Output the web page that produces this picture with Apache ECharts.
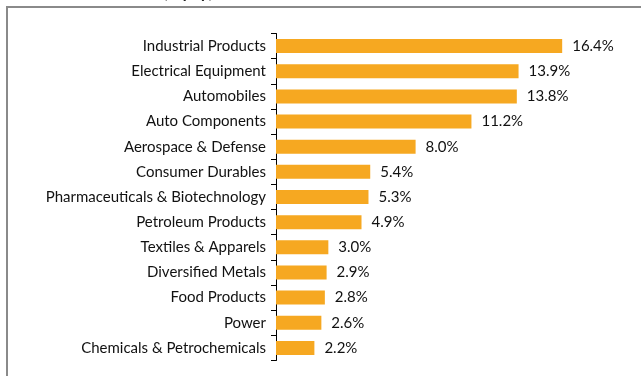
<!DOCTYPE html>
<html>
<head>
<meta charset="utf-8">
<script src="https://cdn.jsdelivr.net/npm/echarts@6/dist/echarts.min.js"></script>
<style>
  html, body { margin: 0; padding: 0; background: #fff; }
  #chart { width: 641px; height: 376px; }
</style>
</head>
<body>
<div id="chart"></div>
<script>
// Sector growth, % year on year
const sectors = [
  'Industrial Products',
  'Electrical Equipment',
  'Automobiles',
  'Auto Components',
  'Aerospace & Defense',
  'Consumer Durables',
  'Pharmaceuticals & Biotechnology',
  'Petroleum Products',
  'Textiles & Apparels',
  'Diversified Metals',
  'Food Products',
  'Power',
  'Chemicals & Petrochemicals'
];
const growth = [16.4, 13.9, 13.8, 11.2, 8.0, 5.4, 5.3, 4.9, 3.0, 2.9, 2.8, 2.6, 2.2];
const titleText = '(%yoy)';

const FONT = 'Lato, "Open Sans", sans-serif';
const chart = echarts.init(document.getElementById('chart'), null, { renderer: 'canvas' });

chart.setOption({
  backgroundColor: '#ffffff',
  animation: false,
  graphic: [
    {
      type: 'rect',
      shape: { x: 7, y: 7, width: 700, height: 400 },
      style: { fill: 'none', stroke: '#8a8a8a', lineWidth: 2 },
      silent: true
    },
    {
      type: 'text',
      left: 163,
      top: -16,
      style: { text: titleText, font: 'bold 17px ' + FONT, fill: '#222' }
    }
  ],
  grid: { left: 276, right: 16, top: 33.5, bottom: 15.5, containLabel: false },
  xAxis: {
    type: 'value',
    min: 0,
    max: 20,
    show: false
  },
  yAxis: {
    type: 'category',
    data: sectors,
    inverse: true,
    axisLine: { show: true, lineStyle: { color: '#000', width: 1 } },
    axisTick: { show: true, length: 5, lineStyle: { color: '#000' } },
    axisLabel: { color: '#111', fontFamily: FONT, fontSize: 15, margin: 10 },
    splitLine: { show: false }
  },
  series: [{
    type: 'bar',
    data: growth,
    barWidth: 14,
    itemStyle: { color: '#F6A821' },
    label: {
      show: true,
      position: 'right',
      distance: 10,
      formatter: p => p.value.toFixed(1) + '%',
      color: '#111',
      fontFamily: FONT,
      fontSize: 15
    }
  }]
});
</script>
</body>
</html>
